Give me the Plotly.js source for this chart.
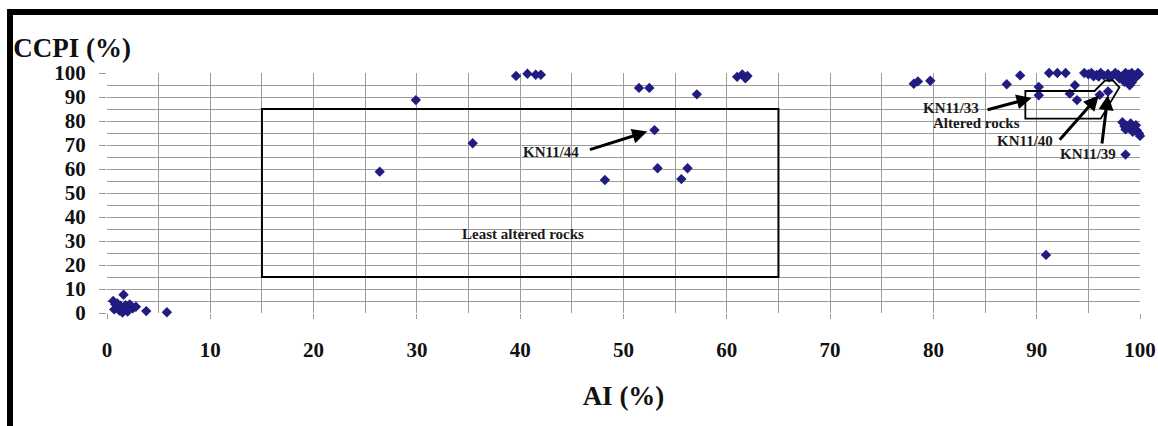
<!DOCTYPE html>
<html>
<head>
<meta charset="utf-8">
<script src="https://cdn.plot.ly/plotly-3.0.1.min.js"></script>
<style>
  html, body { margin: 0; padding: 0; background: #fff; }
  #wrap { position: relative; width: 1158px; height: 426px; overflow: hidden; }
  #chart { position: absolute; left: 0; top: 0; width: 1158px; height: 426px; }
  .bar { position: absolute; background: #000; }
</style>
</head>
<body>
<div id="wrap">
  <div id="chart"></div>
  <div class="bar" style="left:7px; top:9px; width:1151px; height:6px;"></div>
  <div class="bar" style="left:7px; top:9px; width:6px; height:417px;"></div>
</div>
<script>
// Alteration index (AI) and chlorite-carbonate-pyrite index (CCPI), in %
const aiValues = [
  // weakly altered group near the origin
  0.6, 0.8, 1.0, 1.2, 1.5, 1.6, 1.8, 2.0, 2.2, 2.5, 2.8, 1.3, 0.7, 2.0, 1.0, 3.8, 5.8,
  // intermediate samples
  26.4, 29.9, 35.4, 39.6, 40.7, 41.5, 42.0, 48.2, 51.5, 52.5, 53.0, 53.3, 55.6, 56.2, 57.1,
  61.0, 61.5, 62.0, 61.8,
  78.1, 78.5, 79.7,
  87.1, 88.4, 90.2, 90.2, 91.2, 92.0, 92.8, 93.7, 93.2, 93.9, 99.0, 96.1, 96.9,
  // strongly altered band
  94.6, 95.0, 95.3, 95.8, 96.2, 96.5, 96.9, 97.3, 97.6, 97.9, 98.3, 98.6, 98.9, 99.2, 99.5,
  99.8, 99.9, 96.0, 97.0, 98.0, 99.0, 99.6, 95.5, 98.5, 99.2,
  98.3, 98.7, 99.1, 99.4, 98.6, 99.7, 99.9, 100.0, 98.9, 99.3, 99.6, 98.5,
  98.6, 90.9
];
const ccpiValues = [
  5.0, 3.6, 2.2, 1.0, 0.2, 7.6, 3.2, 1.8, 3.6, 2.0, 2.6, 3.0, 1.5, 0.6, 4.0, 0.8, 0.3,
  58.9, 88.7, 70.7, 98.8, 99.7, 99.3, 99.3, 55.4, 93.8, 93.8, 76.2, 60.3, 55.8, 60.3, 91.1,
  98.4, 99.4, 98.8, 97.8,
  95.5, 96.5, 96.8,
  95.3, 99.0, 94.2, 90.7, 100.0, 100.0, 100.0, 94.9, 91.4, 88.7, 94.9, 90.9, 92.3,
  100.0, 99.5, 100.0, 99.2, 100.0, 99.0, 99.6, 98.8, 100.0, 99.3, 98.7, 100.0, 99.4, 100.0, 99.0,
  100.0, 99.5, 98.5, 98.2, 97.8, 97.5, 98.2, 98.6, 96.3, 96.0,
  79.5, 78.0, 79.0, 77.2, 76.5, 76.0, 74.8, 73.8, 77.5, 75.5, 78.2, 77.8,
  66.0, 24.2
];

// Field outlines
const leastAlteredBox = { ai: [15, 65], ccpi: [15, 85] };
const alteredOutlineAI   = [88.9, 95.6, 96.6, 97.4, 98.0, 96.2, 88.9];
const alteredOutlineCCPI = [92.5, 92.5, 96.8, 96.8, 94.0, 81.0, 81.0];

// Labelled samples: text position, arrow tail and arrow head
const sampleLabels = ['KN11/44', 'KN11/33', 'KN11/40', 'KN11/39'];
const labelAI      = [43.0, 81.7, 88.9, 95.0];
const labelCCPI    = [67.0, 85.3, 71.6, 66.2];
const tailAI       = [46.6, 85.1, 92.1, 96.3];
const tailCCPI     = [67.9, 84.5, 71.6, 70.0];
const headAI       = [52.3, 89.5, 96.0, 96.9];
const headCCPI     = [75.6, 89.6, 90.6, 90.8];

const fieldNames = ['Least altered rocks', 'Altered rocks'];
const fieldAI    = [40.3, 84.2];
const fieldCCPI  = [33.0, 79.1];

const tickVals = [0, 10, 20, 30, 40, 50, 60, 70, 80, 90, 100];
const tickText = tickVals.map(String);

const SERIF = 'Liberation Serif, Times New Roman, serif';
const GRID = '#9c9c9c';

const outlinePath = alteredOutlineAI.map((x, i) =>
  (i === 0 ? 'M ' : 'L ') + x + ',' + alteredOutlineCCPI[i]).join(' ') + ' Z';

const annotations = [];
sampleLabels.forEach((name, i) => {
  annotations.push({
    x: labelAI[i], y: labelCCPI[i], xref: 'x', yref: 'y',
    text: name, showarrow: false,
    font: { family: SERIF, size: 15, color: '#1a1a1a', weight: 'bold' }
  });
  annotations.push({
    x: headAI[i], y: headCCPI[i], xref: 'x', yref: 'y',
    ax: tailAI[i], ay: tailCCPI[i], axref: 'x', ayref: 'y',
    text: '', showarrow: true, arrowhead: 2, arrowsize: 1,
    arrowwidth: 3, arrowcolor: '#000'
  });
});
fieldNames.forEach((name, i) => {
  annotations.push({
    x: fieldAI[i], y: fieldCCPI[i], xref: 'x', yref: 'y',
    text: name, showarrow: false,
    font: { family: SERIF, size: 15, color: '#1a1a1a', weight: 'bold' }
  });
});

const trace = {
  type: 'scatter', mode: 'markers',
  x: aiValues, y: ccpiValues,
  marker: { symbol: 'diamond', size: 8, color: '#201c80' },
  cliponaxis: false, hoverinfo: 'skip'
};

const layout = {
  width: 1158, height: 426,
  paper_bgcolor: '#fff', plot_bgcolor: '#fff',
  margin: { l: 107, r: 18, t: 73, b: 113 },
  showlegend: false,
  title: {
    text: 'CCPI (%)', xref: 'container', yref: 'container',
    x: 0.0115, xanchor: 'left', y: 0.888, yanchor: 'middle',
    font: { family: SERIF, size: 27, color: '#111', weight: 'bold' }
  },
  xaxis: {
    range: [0, 100], tickvals: tickVals, ticktext: tickText,
    showgrid: true, gridcolor: GRID, gridwidth: 1,
    ticks: 'outside', ticklen: 5, tickcolor: GRID, tickwidth: 1,
    minor: { dtick: 5, showgrid: true, gridcolor: GRID, gridwidth: 1 },
    zeroline: false, showline: false,
    ticklabelstandoff: 13,
    tickfont: { family: SERIF, size: 21, color: '#111', weight: 'bold' },
    title: { text: 'AI (%)', standoff: 24,
             font: { family: SERIF, size: 27, color: '#111', weight: 'bold' } }
  },
  yaxis: {
    range: [0, 100], tickvals: tickVals, ticktext: tickText,
    showgrid: true, gridcolor: GRID, gridwidth: 1,
    ticks: 'outside', ticklen: 7, tickcolor: GRID, tickwidth: 1,
    minor: { dtick: 5, showgrid: true, gridcolor: GRID, gridwidth: 1 },
    zeroline: false, showline: false,
    ticklabelstandoff: 9,
    tickfont: { family: SERIF, size: 21, color: '#111', weight: 'bold' }
  },
  shapes: [
    { type: 'rect', xref: 'x', yref: 'y',
      x0: leastAlteredBox.ai[0], x1: leastAlteredBox.ai[1],
      y0: leastAlteredBox.ccpi[0], y1: leastAlteredBox.ccpi[1],
      line: { color: '#000', width: 2 }, layer: 'above' },
    { type: 'path', xref: 'x', yref: 'y', path: outlinePath,
      line: { color: '#000', width: 1.8 }, layer: 'above' }
  ],
  annotations: annotations
};

Plotly.newPlot('chart', [trace], layout, { staticPlot: true, displayModeBar: false });
</script>
</body>
</html>
